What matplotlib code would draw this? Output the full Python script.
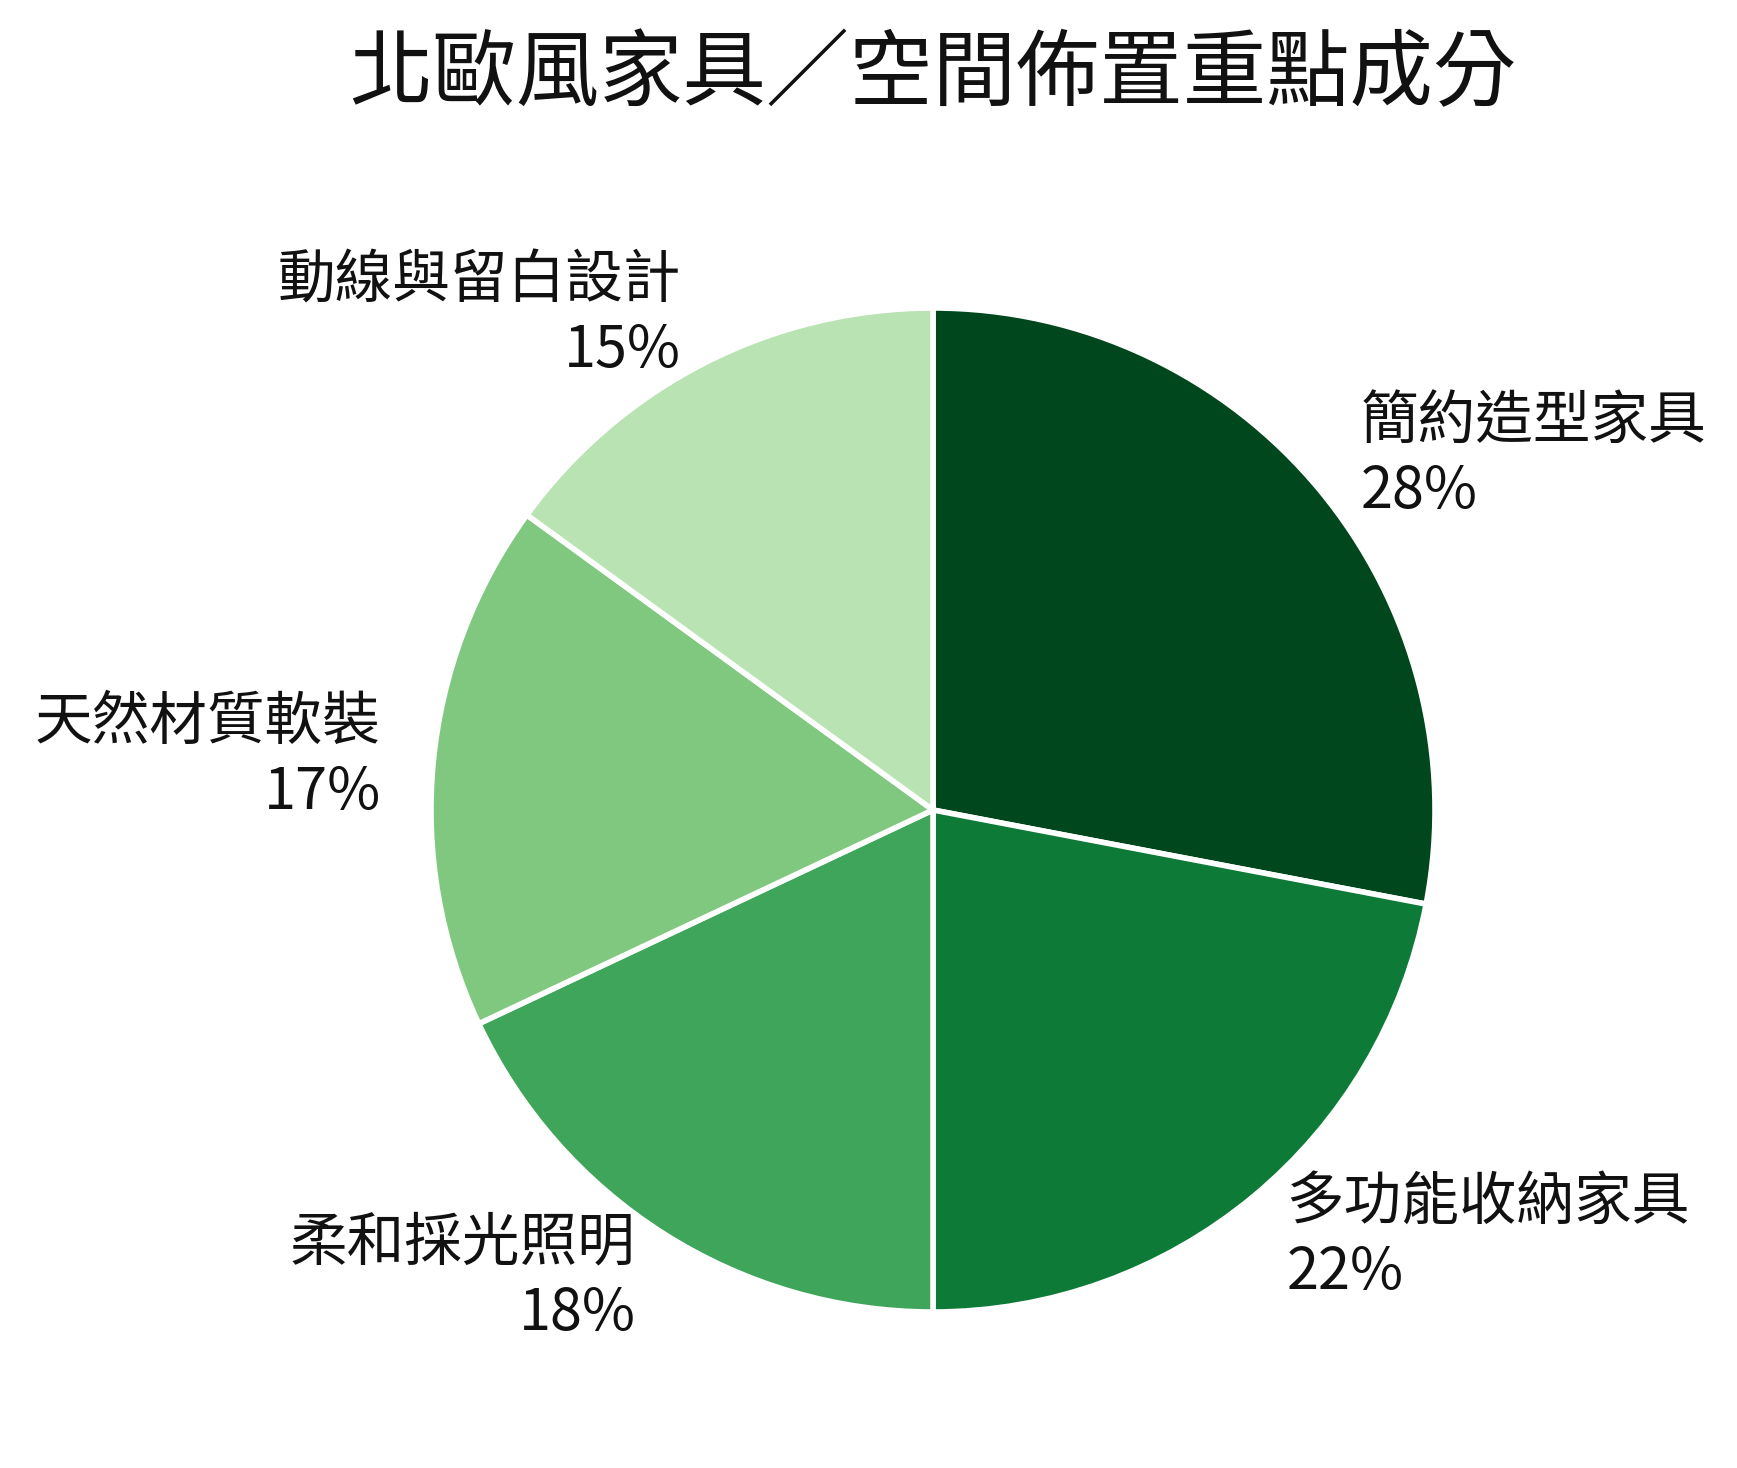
import matplotlib
matplotlib.use("Agg")
import matplotlib.pyplot as plt

plt.rcParams['font.family'] = ['Noto Sans CJK TC', 'DejaVu Sans']

# 資料
categories = ["簡約造型家具", "多功能收納家具", "柔和採光照明", "天然材質軟裝", "動線與留白設計"]
shares = [28, 22, 18, 17, 15]
colors = ["#00471e", "#0e7a38", "#3ea55b", "#80c880", "#b9e3b3"]

title = "北歐風家具／空間佈置重點成分"

W, H = 1737, 1468
fig = plt.figure(figsize=(W / 100, H / 100), dpi=100)

# 圓心與半徑（像素）
cx, cy, r = 933, 810, 502
ax = fig.add_axes([(cx - r) / W, (H - cy - r) / H, 2 * r / W, 2 * r / H])

labels = [f"{c}\n{s}%" for c, s in zip(categories, shares)]
wedges, texts = ax.pie(shares, labels=labels, colors=colors, startangle=90,
                       counterclock=False, labeldistance=1.105,
                       wedgeprops=dict(edgecolor="white", linewidth=4),
                       textprops=dict(fontsize=41.5, color="#111111"))
for t in texts:
    t.set_linespacing(1.25)

ax.set_xlim(-1, 1)
ax.set_ylim(-1, 1)
ax.set_aspect("equal")
ax.axis("off")

# 標題置中於圓餅上方
fig.text(cx / W, 1 - 75 / H, title, ha="center", va="center", fontsize=60, color="#111111")

fig.savefig("out.png", dpi=100, facecolor="white")
